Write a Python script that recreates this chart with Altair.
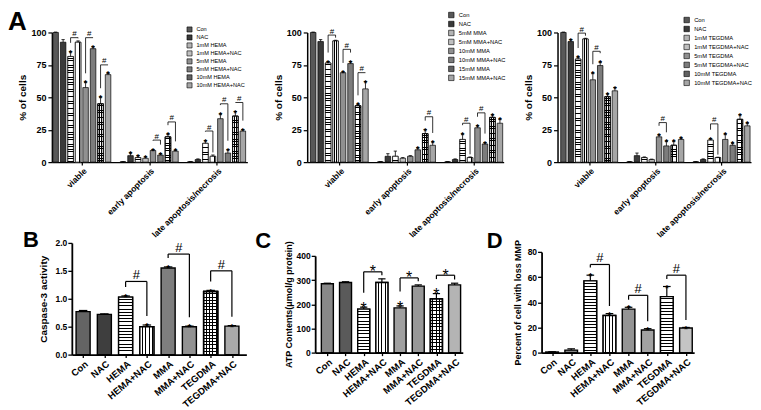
import altair as alt
import pandas as pd

FONT = "Liberation Sans"

# ---------------- Panel A data ----------------
a_groups = ["viable", "early apoptosis", "late apoptosis/necrosis"]

hema_series = ["Con", "NAC", "1mM HEMA", "1mM HEMA+NAC", "5mM HEMA",
               "5mM HEMA+NAC", "10mM HEMA", "10mM HEMA+NAC"]
hema_viable = [100, 92.5, 81.5, 92.5, 57.5, 87.5, 45, 67.5]
hema_viable_err = [0.3, 2, 3.5, 1, 4, 1.5, 5, 1]
hema_early = [0.3, 5, 3.5, 3, 9, 5.5, 19.5, 8.5]
hema_early_err = [0.1, 2, 1.5, 1, 0.5, 1, 2, 0.5]
hema_late = [0.3, 2, 14.5, 4.5, 33.5, 7, 35.5, 24]
hema_late_err = [0.1, 0.5, 2, 1, 3.5, 2.5, 3.5, 1]
hema_stars = [[2, 4, 5, 6, 7], [1, 2, 3, 4, 5, 6, 7], [2, 4, 5, 6, 7]]
hema_brackets = [(0, 2, 3, 96), (0, 4, 5, 96), (0, 6, 7, 75),
                 (1, 4, 5, 17), (1, 6, 7, 31),
                 (2, 2, 3, 24), (2, 4, 5, 45), (2, 6, 7, 46)]

mma_series = ["Con", "NAC", "5mM MMA", "5mM MMA+NAC", "10mM MMA",
              "10mM  MMA+NAC", "15mM MMA", "15mM MMA+NAC"]
mma_viable = [100, 93, 76.5, 93.5, 69, 76, 43.5, 56.5]
mma_viable_err = [0.3, 1.5, 1, 0.5, 0.5, 1.5, 1, 5.5]
mma_early = [0.3, 4.5, 4.5, 3, 4.5, 9.5, 22, 13]
mma_early_err = [0.1, 2, 4, 0.5, 0.5, 1.5, 3, 2.5]
mma_late = [0.3, 2, 17.5, 3.5, 26.5, 14, 34.5, 30]
mma_late_err = [0.1, 0.5, 4, 0.5, 1.5, 1, 2, 3]
mma_stars = [[2, 4, 5, 6, 7], [5, 6, 7], [2, 4, 5, 6, 7]]
mma_brackets = [(0, 2, 3, 98), (0, 4, 5, 87), (0, 6, 7, 69),
                (1, 6, 7, 35), (2, 2, 3, 30), (2, 4, 5, 38)]

teg_series = ["Con", "NAC", "1mM TEGDMA", "1mM TEGDMA+NAC", "5mM TEGDMA",
              "5mM TEGDMA+NAC", "10mM TEGDMA", "10mM TEGDMA+NAC"]
teg_viable = [100, 93, 79.5, 95, 63.5, 74.5, 50.5, 55]
teg_viable_err = [0.3, 1.5, 1.5, 0.5, 5, 2.5, 2, 2.5]
teg_early = [0.3, 5, 3.5, 2, 19.5, 12.5, 13, 17.5]
teg_early_err = [0.1, 2, 0.5, 0.3, 1.5, 3.5, 3, 1]
teg_late = [0.3, 2, 17, 3.5, 17.5, 13, 33, 28]
teg_late_err = [0.1, 0.5, 1, 0.3, 4, 1.5, 3.5, 2]
teg_stars = [[1, 2, 4, 5, 6, 7], [4, 5, 6, 7], [2, 4, 5, 6, 7]]
teg_brackets = [(0, 2, 3, 99.5), (0, 4, 5, 85.5), (1, 4, 5, 30.5), (2, 2, 3, 29.5)]

# ---------------- Panels B, C, D data ----------------
bcd_cats = ["Con", "NAC", "HEMA", "HEMA+NAC", "MMA", "MMA+NAC", "TEGDMA", "TEGDMA+NAC"]

caspase = [0.77, 0.72, 1.03, 0.50, 1.55, 0.50, 1.13, 0.51]
caspase_err = [0.02, 0.01, 0.02, 0.03, 0.02, 0.01, 0.02, 0.01]
caspase_stars = [2, 3, 4, 5, 6, 7]
caspase_brackets = [(2, 3, 1.31), (4, 5, 1.80), (6, 7, 1.50)]

atp = [285, 290, 180, 290, 185, 275, 222, 280]
atp_err = [2, 3, 8, 15, 8, 5, 22, 7]
atp_stars = [2, 4, 6]
atp_brackets = [(2, 3, 334), (4, 5, 309), (6, 7, 320)]

mmp = [0.5, 2, 57, 29.5, 34.5, 18, 44.5, 19.5]
mmp_err = [0.2, 1, 4.5, 1.5, 1.5, 1, 8, 0.5]
mmp_stars = [2, 3, 4, 5, 6, 7]
mmp_brackets = [(2, 3, 70), (4, 5, 45.5), (6, 7, 61.5)]

# ---------------- styles ----------------
a_grays = ["#585858", "#3a3a3a", "#b4b4b4", "#c0c0c0", "#909090", "#7c7c7c", "#626262", "#a6a6a6"]
a_patterns = [None, None, "h", "v", None, None, "hv", None]
b_grays = ["#646464", "#3e3e3e", "#bcbcbc", "#c8c8c8", "#7e7e7e", "#929292", "#6a6a6a", "#aaaaaa"]
b_patterns = [None, None, "h", "v", None, None, "hv", None]
c_grays = ["#888888", "#5a5a5a", "#c4c4c4", "#cccccc", "#a0a0a0", "#989898", "#b4b4b4", "#b4b4b4"]
c_patterns = [None, None, "h", "v", None, None, "hv", None]
d_grays = ["#9c9c9c", "#868686", "#b0b0b0", "#b8b8b8", "#949494", "#a2a2a2", "#8a8a8a", "#c4c4c4"]
d_patterns = [None, None, "h", "v", None, None, "h", None]

CLEAR = "rgba(255,255,255,0)"


def stripes(length_px, spacing, lw, horizontal, bg):
    stops = [{"offset": 0.0, "color": bg}]
    pos = spacing * 0.6
    while pos + lw < length_px - 0.5:
        a = round(pos / length_px, 4)
        b = round((pos + lw) / length_px, 4)
        stops += [{"offset": a, "color": bg}, {"offset": a, "color": "black"},
                  {"offset": b, "color": "black"}, {"offset": b, "color": bg}]
        pos += spacing
    stops.append({"offset": 1.0, "color": bg})
    g = {"gradient": "linear", "stops": stops, "x1": 0, "y1": 0}
    if horizontal:
        g.update(x2=0, y2=1)
    else:
        g.update(x2=1, y2=0)
    return g


def axis(**kw):
    base = dict(domainColor="black", tickColor="black", labelColor="black",
                titleColor="black", labelFont=FONT, titleFont=FONT,
                labelFontWeight="bold", titleFontWeight="bold", grid=False)
    base.update(kw)
    return alt.Axis(**base)


def label_expr(values, names):
    expr = "''"
    for v, n in zip(reversed(values), reversed(names)):
        expr = f"datum.value == {v} ? '{n}' : " + expr
    return expr


def pattern_layers(base, keys_heights, pattern, X, Y, width_px, h_sp, v_sp, lw, sw):
    layers = []
    for key, hpx in keys_heights:
        if hpx < 4:
            continue
        sub = base.transform_filter(f"datum.key == '{key}'")
        enc = dict(x=X("left"), x2="right", y=Y("v"), y2="base")
        if "h" in pattern:
            layers.append(sub.mark_bar(fill=stripes(hpx, h_sp, lw, True, "white"),
                                       stroke="black", strokeWidth=sw).encode(**enc))
            if "v" in pattern:
                layers.append(sub.mark_bar(fill=stripes(width_px, v_sp, lw, False, CLEAR),
                                           stroke="black", strokeWidth=sw).encode(**enc))
        elif "v" in pattern:
            layers.append(sub.mark_bar(fill=stripes(width_px, v_sp, lw, False, "white"),
                                       stroke="black", strokeWidth=sw).encode(**enc))
    return layers


def panel_a(series, vals, errs, stars, brackets, grays, width, xdom, lx, ly, rowpad,
            lfont, lsym, title=None):
    height = 130
    rows = []
    for g in range(3):
        for s, name in enumerate(series):
            p = g * 9 + s
            v = vals[g][s]
            e = errs[g][s]
            rows.append(dict(series=name, key=f"{g}-{s}", left=p + 0.13, right=p + 0.87,
                             c=p + 0.5, cl=p + 0.28, cr=p + 0.72, v=v, base=0, top=v + e,
                             star=s in stars[g]))
    df = pd.DataFrame(rows)
    brow = []
    for g, s1, s2, lvl in brackets:
        i1, i2 = g * 9 + s1, g * 9 + s2
        t1 = vals[g][s1] + errs[g][s1] + (7 if s1 in stars[g] else 2)
        t2 = vals[g][s2] + errs[g][s2] + (7 if s2 in stars[g] else 2)
        brow.append(dict(c1=i1 + 0.5, c2=i2 + 0.5, mid=(i1 + i2) / 2 + 0.5, lvl=lvl,
                         b1=min(t1, lvl), b2=min(t2, lvl)))
    bdf = pd.DataFrame(brow)
    centers = [g * 9 + 4 for g in range(3)]
    xs = alt.Scale(domain=xdom, nice=False, zero=False)
    ys = alt.Scale(domain=[0, 100], nice=False)
    xax = axis(values=centers, labelExpr=label_expr(centers, a_groups), labelAngle=315,
               labelAlign="right", labelBaseline="top", labelFontSize=8.5, tickSize=3,
               domainWidth=1.5, tickWidth=1.2, title=None, labelPadding=1,
               labelOverlap=False)
    yax = axis(values=[0, 25, 50, 75, 100], title="% of cells", titleFontSize=10,
               labelFontSize=9, tickSize=4, domainWidth=1.5, tickWidth=1.2,
               titlePadding=3, labelPadding=2)

    def X(f):
        return alt.X(f, type="quantitative", scale=xs, axis=xax)

    def Y(f):
        return alt.Y(f, type="quantitative", scale=ys, axis=yax)

    base = alt.Chart(df)
    bars = base.mark_bar(stroke="black", strokeWidth=0.7).encode(
        x=X("left"), x2="right", y=Y("v"), y2="base",
        color=alt.Color("series:N", scale=alt.Scale(domain=series, range=grays),
                        legend=alt.Legend(orient="none", legendX=lx, legendY=ly, title=None,
                                          symbolType="square", symbolSize=lsym,
                                          symbolStrokeColor="black", symbolStrokeWidth=0.6,
                                          labelFontSize=lfont, labelFont=FONT,
                                          labelColor="black", rowPadding=rowpad,
                                          labelOffset=4, padding=0, labelLimit=200)))
    bar_px = 0.74 * width / (xdom[1] - xdom[0])
    pats = []
    for s, pat in enumerate(a_patterns):
        if pat is None:
            continue
        kh = [(f"{g}-{s}", vals[g][s] / 100 * height) for g in range(3)]
        pats += pattern_layers(base, kh, pat, X, Y, bar_px, 2.4, 2.3, 0.7, 0.7)
    err = base.mark_rule(color="black", strokeWidth=0.8).encode(x=X("c"), y=Y("v"), y2="top")
    cap = base.mark_rule(color="black", strokeWidth=0.8).encode(x=X("cl"), x2="cr", y=Y("top"))
    st = base.transform_filter("datum.star").mark_text(
        text="*", fontSize=9, fontWeight="bold", font=FONT, baseline="alphabetic", dy=4,
        color="black").encode(x=X("c"), y=Y("top"))
    bb = alt.Chart(bdf)
    bh = bb.mark_rule(color="black", strokeWidth=0.8).encode(x=X("c1"), x2="c2", y=Y("lvl"))
    l1 = bb.mark_rule(color="black", strokeWidth=0.8).encode(x=X("c1"), y=Y("b1"), y2="lvl")
    l2 = bb.mark_rule(color="black", strokeWidth=0.8).encode(x=X("c2"), y=Y("b2"), y2="lvl")
    hs = bb.mark_text(text="#", fontSize=8, font=FONT, baseline="alphabetic", dy=-1.5,
                      color="black").encode(x=X("mid"), y=Y("lvl"))
    ch = alt.layer(bars, *pats, err, cap, st, bh, l1, l2, hs).properties(
        width=width, height=height)
    if title is not None:
        ch = ch.properties(title=title)
    return ch


def panel_bcd(vals, errs, stars, brackets, grays, patterns, width, height, xdom, ydom, yrange,
              yvalues, yformat, ytitle, ytitle_size, ytitle_pad, marker, marker_size,
              marker_weight, star_size, star_weight, gap_star, gap_plain, title):
    n = len(bcd_cats)
    df = pd.DataFrame(dict(cat=bcd_cats, key=[str(i) for i in range(n)],
                           left=[i + 0.17 for i in range(n)],
                           right=[i + 0.83 for i in range(n)],
                           c=[i + 0.5 for i in range(n)],
                           cl=[i + 0.3 for i in range(n)],
                           cr=[i + 0.7 for i in range(n)],
                           v=vals, base=[0] * n,
                           top=[v + e for v, e in zip(vals, errs)],
                           star=[i in stars for i in range(n)]))
    brow = []
    for i1, i2, lvl in brackets:
        t1 = vals[i1] + errs[i1] + (gap_star if i1 in stars else gap_plain)
        t2 = vals[i2] + errs[i2] + (gap_star if i2 in stars else gap_plain)
        brow.append(dict(c1=i1 + 0.5, c2=i2 + 0.5, mid=(i1 + i2) / 2 + 0.5, lvl=lvl,
                         b1=min(t1, lvl), b2=min(t2, lvl)))
    bdf = pd.DataFrame(brow)
    centers = [i + 0.5 for i in range(n)]
    xs = alt.Scale(domain=xdom, nice=False, zero=False)
    if yrange is None:
        ys = alt.Scale(domain=ydom, nice=False)
        plot_h = height
    else:
        ys = alt.Scale(domain=ydom, nice=False, range=yrange)
        plot_h = yrange[0] - yrange[1]
    xax = axis(values=centers, labelExpr=label_expr(centers, bcd_cats), labelAngle=320,
               labelAlign="right", labelBaseline="top", labelFontSize=9.5, tickSize=3,
               domainWidth=1.8, tickWidth=1.3, title=None, labelPadding=1,
               labelOverlap=False)
    yax = axis(values=yvalues, format=yformat, title=ytitle, titleFontSize=ytitle_size,
               labelFontSize=8.5, tickSize=4, domainWidth=1.8, tickWidth=1.3,
               titlePadding=ytitle_pad, labelPadding=1)

    def X(f):
        return alt.X(f, type="quantitative", scale=xs, axis=xax)

    def Y(f):
        return alt.Y(f, type="quantitative", scale=ys, axis=yax)

    base = alt.Chart(df)
    bars = base.mark_bar(stroke="black", strokeWidth=1.4).encode(
        x=X("left"), x2="right", y=Y("v"), y2="base",
        color=alt.Color("cat:N", scale=alt.Scale(domain=bcd_cats, range=grays), legend=None))
    bar_px = 0.66 * width / (xdom[1] - xdom[0])
    pats = []
    for i, pat in enumerate(patterns):
        if pat is None:
            continue
        hpx = (vals[i] - ydom[0]) / (ydom[1] - ydom[0]) * plot_h
        pats += pattern_layers(base, [(str(i), hpx)], pat, X, Y, bar_px, 3.2, 3.4, 1.0, 1.4)
    err = base.mark_rule(color="black", strokeWidth=1.2).encode(x=X("c"), y=Y("v"), y2="top")
    cap = base.mark_rule(color="black", strokeWidth=1.2).encode(x=X("cl"), x2="cr", y=Y("top"))
    st = base.transform_filter("datum.star").mark_text(
        text="*", fontSize=star_size, fontWeight=star_weight, font=FONT,
        baseline="alphabetic", dy=star_size * 0.42, color="black").encode(x=X("c"), y=Y("top"))
    bb = alt.Chart(bdf)
    bh = bb.mark_rule(color="black", strokeWidth=1.2).encode(x=X("c1"), x2="c2", y=Y("lvl"))
    l1 = bb.mark_rule(color="black", strokeWidth=1.2).encode(x=X("c1"), y=Y("b1"), y2="lvl")
    l2 = bb.mark_rule(color="black", strokeWidth=1.2).encode(x=X("c2"), y=Y("b2"), y2="lvl")
    dy = -2 if marker == "#" else marker_size * 0.35
    hs = bb.mark_text(text=marker, fontSize=marker_size, fontWeight=marker_weight, font=FONT,
                      baseline="alphabetic", dy=dy, color="black").encode(
        x=X("mid"), y=Y("lvl"))
    return alt.layer(bars, *pats, err, cap, st, bh, l1, l2, hs).properties(
        width=width, height=height, title=title)


def letter(t, dx, dy, size):
    return alt.TitleParams(text=t, anchor="start", frame="group", orient="top", fontSize=size,
                           fontWeight="bold", font=FONT, color="black", dx=dx, dy=dy,
                           offset=0, baseline="alphabetic")


def spacer(w, h):
    return alt.Chart(pd.DataFrame({"z": [0]})).mark_point(opacity=0).properties(width=w, height=h)


a1 = panel_a(hema_series, [hema_viable, hema_early, hema_late],
             [hema_viable_err, hema_early_err, hema_late_err], hema_stars, hema_brackets,
             a_grays, 196, [0, 26.1], 135, -6, 0, 5.6, 26, title=letter("A", -44, 29.6, 26))
a2 = panel_a(mma_series, [mma_viable, mma_early, mma_late],
             [mma_viable_err, mma_early_err, mma_late_err], mma_stars, mma_brackets,
             a_grays, 197, [-0.3, 26.0], 141, -21, 0, 5.8, 30)
a3 = panel_a(teg_series, [teg_viable, teg_early, teg_late],
             [teg_viable_err, teg_early_err, teg_late_err], teg_stars, teg_brackets,
             a_grays, 194, [-0.3, 26.0], 126, -16, 0, 5.8, 30)

b = panel_bcd(caspase, caspase_err, caspase_stars, caspase_brackets, b_grays, b_patterns,
              175, 112, [-0.03, 8.18], [0, 2], None, [0, 0.5, 1.0, 1.5, 2.0], ".1f",
              "Caspase-3 activity", 10, 7, "#", 13, "normal", 10, "bold", 0.16, 0.04,
              letter("B", -49, 30.5, 22))
c = panel_bcd(atp, atp_err, atp_stars, atp_brackets, c_grays, c_patterns, 148, 110,
              [-0.17, 7.95], [0, 400], [110, 13], [0, 100, 200, 300, 400], "d",
              "ATP Contents(\u03bcmol/g protein)", 9, 3, "*", 16, "normal", 16, "normal",
              60, 15, letter("C", -60, 29, 22))
d = panel_bcd(mmp, mmp_err, mmp_stars, mmp_brackets, d_grays, d_patterns, 153, 110,
              [-0.05, 7.93], [0, 80], [110, 9], [0, 20, 40, 60, 80], "d",
              "Percent of cell with loss MMP", 9, 5, "#", 13, "normal", 10, "bold", 6, 2,
              letter("D", -55, 31, 22))

row1 = alt.hconcat(a1, spacer(60, 130), a2, spacer(54, 130), a3,
                   spacing=0, bounds="flush").resolve_scale(color="independent")
row2 = alt.hconcat(spacer(20, 112), b, spacer(69, 112), c, spacer(79, 112), d,
                   spacing=0, bounds="flush").resolve_scale(color="independent")

chart = alt.vconcat(row1, row2, spacing=211, bounds="flush").resolve_scale(
    color="independent").configure_view(stroke=None).properties(
    padding={"left": 0, "top": 0, "right": 0, "bottom": 0})

chart.save("out.html", embed_options={"renderer": "svg", "actions": False})
